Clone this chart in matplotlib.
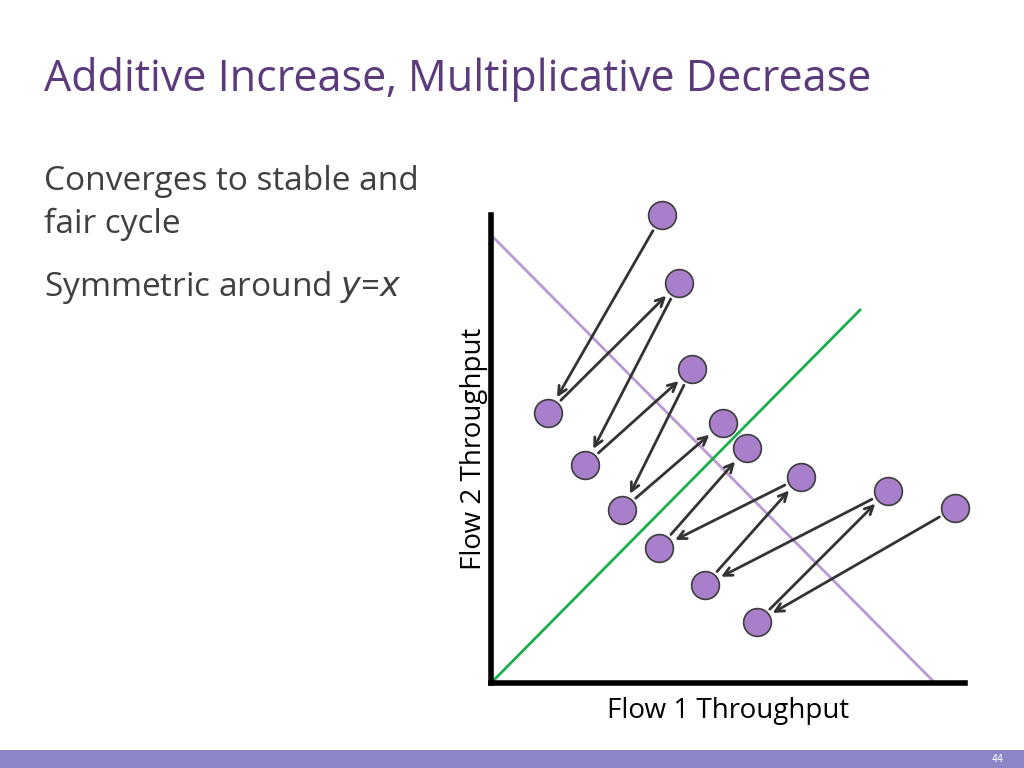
import matplotlib.pyplot as plt

# point coordinates in chart units (origin at the axis corner)
names = ["A", "B", "C", "D", "E", "F", "G", "H", "I", "J", "K", "L", "M", "N"]
px = [171, 57, 188, 94, 201, 131, 232, 168, 256, 214, 310, 266, 397, 464]
py = [468, 270, 400, 218, 314, 173, 260, 135, 235, 98, 206, 61, 192, 175]
# arrows: (from, to)
arrows = [("A", "B"), ("B", "C"), ("C", "D"), ("D", "E"), ("E", "F"), ("F", "G"),
          ("N", "L"), ("L", "M"), ("M", "J"), ("J", "K"), ("K", "H"), ("H", "I")]
eff_x = [0, 444]
eff_y = [448, 0]
fair_x = [0, 369]
fair_y = [0, 373]

fig = plt.figure(figsize=(10.24, 7.68), dpi=100)
fig.patch.set_facecolor("white")
font = "Open Sans"

fig.text(44 / 1024, 1 - 80 / 768, "Additive Increase, Multiplicative Decrease",
         fontsize=31, color="#5b3b7c", family=font, va="center")
fig.text(44 / 1024, 1 - 182 / 768, "Converges to stable and", fontsize=24,
         color="#404040", family=font, va="center")
fig.text(44 / 1024, 1 - 224 / 768, "fair cycle", fontsize=24,
         color="#404040", family=font, va="center")
fig.text(44 / 1024, 1 - 288 / 768, "Symmetric around $\\mathit{y}$=$\\mathit{x}$",
         fontsize=24, color="#404040", family=font, va="center")

# bottom bar
bar = fig.add_axes([0, 0, 1, 18 / 768])
bar.set_facecolor("#8b87c6")
bar.set_xticks([]); bar.set_yticks([])
for s in bar.spines.values():
    s.set_visible(False)
fig.text(998 / 1024, 9 / 768, "44", fontsize=7, color="white", ha="center", va="center")

ax = fig.add_axes([491 / 1024, 85 / 768, 474 / 1024, 468 / 768])
ax.set_xlim(0, 474)
ax.set_ylim(0, 468)
ax.set_xticks([]); ax.set_yticks([])
for s in ["top", "right"]:
    ax.spines[s].set_visible(False)
for s in ["left", "bottom"]:
    ax.spines[s].set_linewidth(4)

ax.plot(eff_x, eff_y, color="#b79ad3", lw=2, clip_on=False)
ax.plot(fair_x, fair_y, color="#1aaf4b", lw=2, clip_on=False)

pos = dict(zip(names, zip(px, py)))
for a, b in arrows:
    ax.annotate("", xy=pos[b], xytext=pos[a],
                arrowprops=dict(arrowstyle="->", color="#333333", lw=2,
                                shrinkA=13, shrinkB=13, mutation_scale=15),
                annotation_clip=False)
ax.scatter(px, py, s=400, color="#a97fcb", edgecolor="#3d3d3d", lw=1.2,
           zorder=5, clip_on=False)

ax.set_xlabel("Flow 1 Throughput", fontsize=20, family=font, labelpad=10)
ax.set_ylabel("Flow 2 Throughput", fontsize=20, family=font, labelpad=2)

fig.savefig("out.png", dpi=100)
